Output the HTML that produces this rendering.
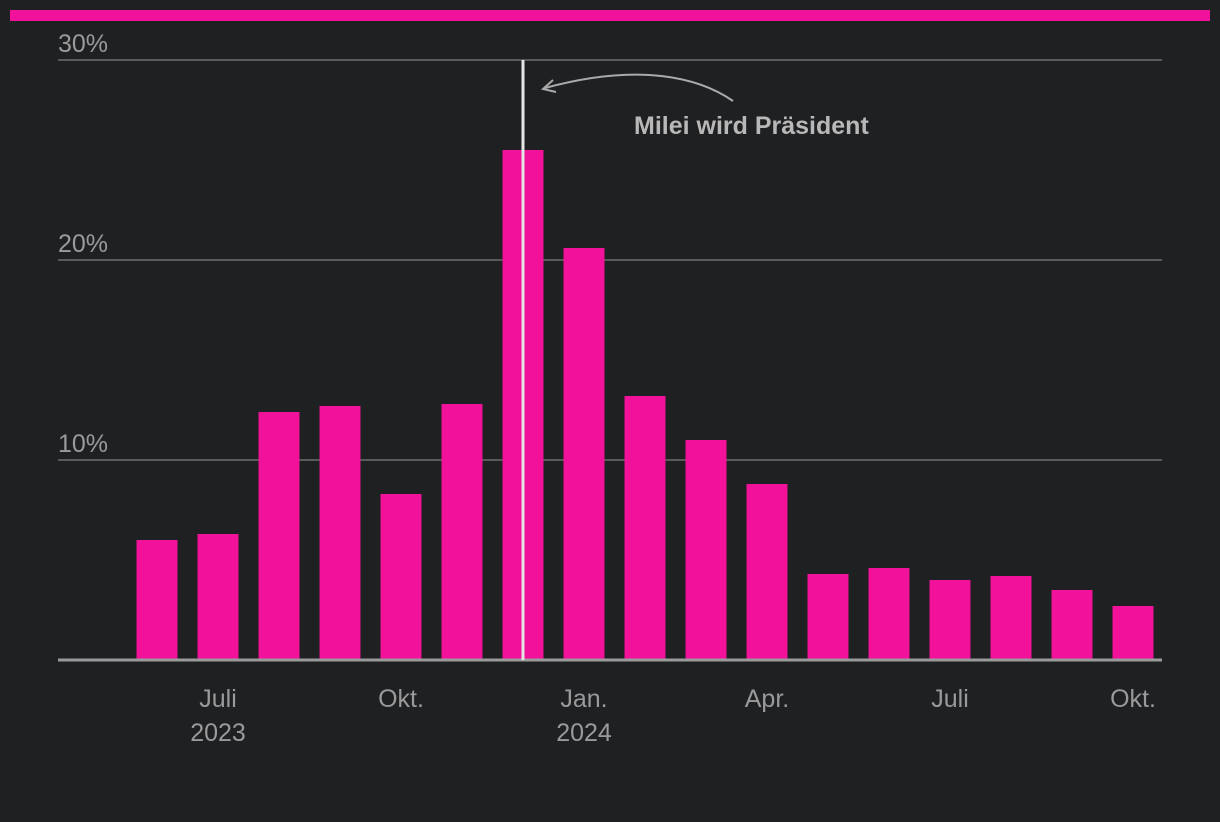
<!DOCTYPE html>
<html><head><meta charset="utf-8"><style>
body{margin:0;background:#1f2022;}
svg{display:block;font-family:"Liberation Sans",sans-serif;}
</style></head><body>
<svg width="1220" height="822" viewBox="0 0 1220 822">
<rect x="0" y="0" width="1220" height="822" fill="#1f2022"/>
<rect x="10" y="10" width="1200" height="11" fill="#f2119a"/>
<g id="grid"></g><g id="bars"></g><g id="xlabels"></g>
<line x1="523" y1="60" x2="523" y2="660" stroke="#e6e6e6" stroke-width="3"/>
<path d="M733,101 C700,78 640,62 545,88" fill="none" stroke="#aaa" stroke-width="2"/>
<path d="M553,80 L543,89 L556,92" fill="none" stroke="#aaa" stroke-width="2"/>
<text x="634" y="134" fill="#b8b8b8" font-size="25" font-weight="bold">Milei wird Präsident</text>
</svg>
<script>
const categories=["2023-06","2023-07","2023-08","2023-09","2023-10","2023-11","2023-12","2024-01","2024-02","2024-03","2024-04","2024-05","2024-06","2024-07","2024-08","2024-09","2024-10"];
const values=[6.0,6.3,12.4,12.7,8.3,12.8,25.5,20.6,13.2,11.0,8.8,4.3,4.6,4.0,4.2,3.5,2.7];
const yTicks=[10,20,30];
const yTickLabels=["10%","20%","30%"];
const xLabelIdx=[1,4,7,10,13,16];
const xLabels=["Juli","Okt.","Jan.","Apr.","Juli","Okt."];
const xYears={1:"2023",7:"2024"};
const NS="http://www.w3.org/2000/svg";
const y=v=>660-v*20;
const x=i=>157+i*61;
const grid=document.getElementById('grid'),bars=document.getElementById('bars'),xl=document.getElementById('xlabels');
yTicks.forEach((t,k)=>{
 const l=document.createElementNS(NS,'line');
 l.setAttribute('x1',58);l.setAttribute('x2',1162);l.setAttribute('y1',y(t));l.setAttribute('y2',y(t));
 l.setAttribute('stroke','#5a5a5a');l.setAttribute('stroke-width','2');
 
 
 grid.appendChild(l);
 const tx=document.createElementNS(NS,'text');
 tx.setAttribute('x',58);tx.setAttribute('y',y(t)-8);tx.setAttribute('fill','#9a9a9a');tx.setAttribute('font-size','25');
 tx.textContent=yTickLabels[k];
 
 
 grid.appendChild(tx);
});
values.forEach((v,i)=>{
 const r=document.createElementNS(NS,'rect');
 r.setAttribute('x',x(i)-20.5);r.setAttribute('width',41);r.setAttribute('y',y(v));r.setAttribute('height',660-y(v));
 r.setAttribute('fill','#f2119a');
 
 
 bars.appendChild(r);
});
const ax=document.createElementNS(NS,'line');
ax.setAttribute('x1',58);ax.setAttribute('x2',1162);ax.setAttribute('y1',660);ax.setAttribute('y2',660);
ax.setAttribute('stroke','#9a9a9a');ax.setAttribute('stroke-width','3');


bars.appendChild(ax);
xLabelIdx.forEach((idx,k)=>{
 const tx=document.createElementNS(NS,'text');
 tx.setAttribute('x',x(idx));tx.setAttribute('y',707);tx.setAttribute('text-anchor','middle');
 tx.setAttribute('fill','#9a9a9a');tx.setAttribute('font-size','25');
 tx.textContent=xLabels[k];
 
 
 xl.appendChild(tx);
 if(xYears[idx]){
  const yt=document.createElementNS(NS,'text');
  yt.setAttribute('x',x(idx));yt.setAttribute('y',741);yt.setAttribute('text-anchor','middle');
  yt.setAttribute('fill','#9a9a9a');yt.setAttribute('font-size','25');
  yt.textContent=xYears[idx];
  
  
  xl.appendChild(yt);
 }
});
</script>
</body></html>
